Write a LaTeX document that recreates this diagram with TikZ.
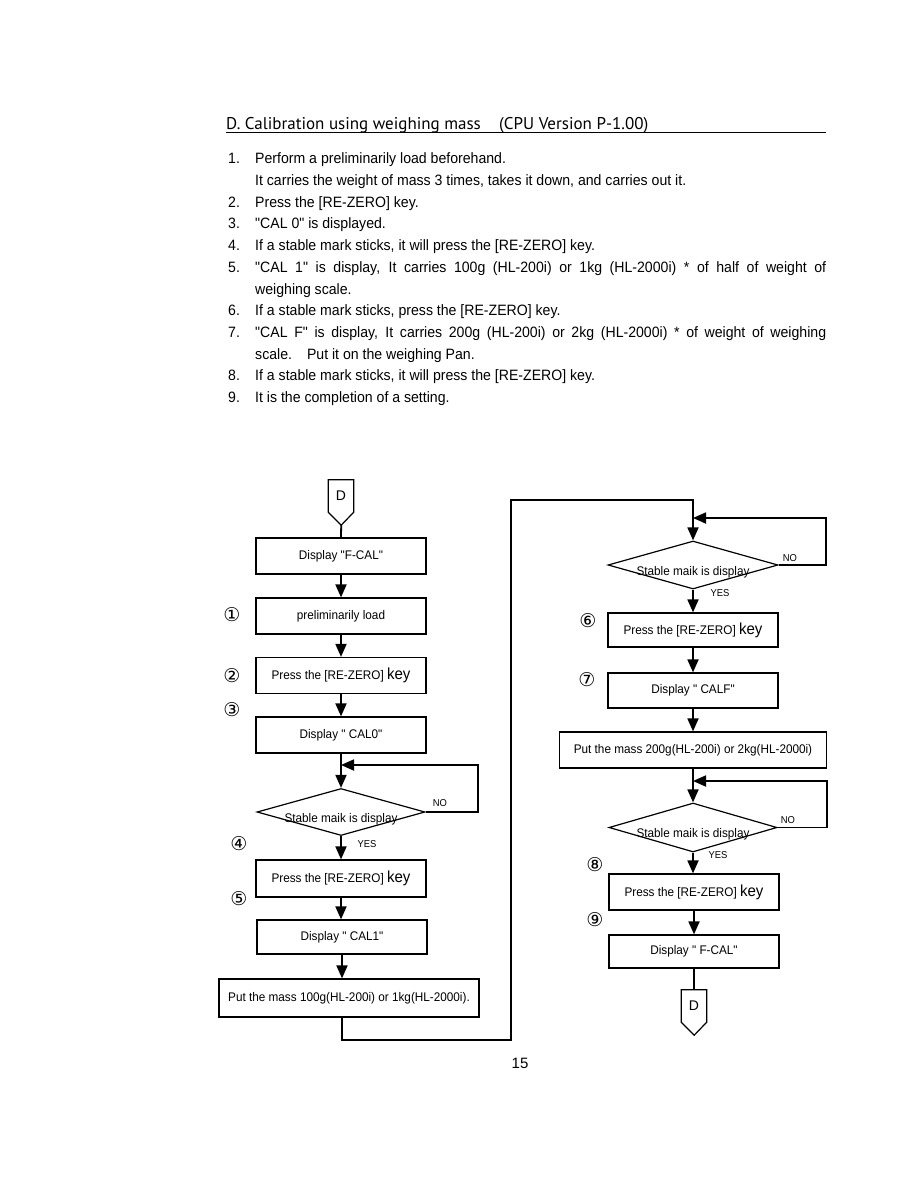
\documentclass[tikz,border=0pt]{standalone}
\usepackage{fontspec}
\setmainfont{Liberation Sans}
\newfontfamily\bodyfont[FakeStretch=0.94]{Liberation Sans}
\newfontfamily\headfont{PT Sans}
\newfontfamily\circfont{DejaVu Sans}
\usetikzlibrary{arrows.meta,shapes.geometric}

\newcommand{\bodytext}{\bodyfont\fontsize{15}{18}\selectfont}
\newcommand{\boxtext}{\bodyfont\fontsize{12.5}{14}\selectfont}
\newcommand{\keytext}{{\fontsize{16}{16}\selectfont key}}

\begin{document}
\begin{tikzpicture}[
  box/.style={draw,line width=1.2,minimum width=170,minimum height=36,inner sep=0,font=\boxtext},
  decision/.style={diamond,draw,line width=1.2,minimum width=170,minimum height=48,inner sep=0},
  flow/.style={line width=1.8,-{Triangle[width=11pt,length=13pt]}},
  link/.style={line width=1.8},
  tag/.style={inner sep=0,font=\circfont\fontsize{19}{19}\selectfont},
  yesno/.style={inner sep=0,font=\bodyfont\fontsize{10}{10}\selectfont},
  listline/.style={anchor=base west,inner sep=0,font=\bodytext},
  offpage/.style={inner sep=0,minimum width=25,minimum height=32,font=\fontsize{14}{14}\selectfont},
  x=1pt,y=-1pt]

  \path[fill=white] (0,0) rectangle (918,1188);
  \useasboundingbox (0,0) rectangle (918,1188);

  % ------------------- heading ----------------------
  \node[anchor=base west,inner sep=0,font=\headfont\fontsize{17}{20}\selectfont] (head) at (226,130)
    {D. Calibration using weighing mass};
  \node[anchor=base west,inner sep=0,font=\headfont\fontsize{17}{20}\selectfont] (cpu) at (499,130)
    {(CPU Version P-1.00)};
  \draw[line width=1] (226,133) -- (826,133);

  % ------------------- steps ----------------------
  \foreach \n/\yb in {1/163.5,2/207,3/228.7,4/250.3,5/272,6/315.3,7/337,8/380.3,9/402} {
    \node[listline] (num\n) at (228,\yb) {\n.};
  }
  \node[listline] (item1)  at (255,163.5) {Perform a preliminarily load beforehand.};
  \node[listline] (item1b) at (255,185.3) {It carries the weight of mass 3 times, takes it down, and carries out it.};
  \node[listline] (item2)  at (255,207)   {Press the [RE-ZERO] key.};
  \node[listline] (item3)  at (255,228.7) {"CAL 0" is displayed.};
  \node[listline] (item4)  at (255,250.3) {If a stable mark sticks, it will press the [RE-ZERO] key.};
  \node[listline] (item5)  at (255,272)
    {\makebox[571pt][s]{"CAL 1" is display, It carries 100g (HL-200i) or 1kg (HL-2000i) * of half of weight of}};
  \node[listline] (item5b) at (255,294.7) {weighing scale.};
  \node[listline] (item6)  at (255,315.3) {If a stable mark sticks, press the [RE-ZERO] key.};
  \node[listline] (item7)  at (255,337)
    {\makebox[571pt][s]{"CAL F" is display, It carries 200g (HL-200i) or 2kg (HL-2000i) * of weight of weighing}};
  \node[listline] (item7b) at (255,359.7) {scale.\quad Put it on the weighing Pan.};
  \node[listline] (item8)  at (255,380.3) {If a stable mark sticks, it will press the [RE-ZERO] key.};
  \node[listline] (item9)  at (255,402)   {It is the completion of a setting.};

  % ------------------- left column ----------------------
  \node[offpage] (dTop) at (341,496) {D};
  \draw[line width=1.2] (dTop.south west) -- (dTop.north west) -- (dTop.north east)
    -- (dTop.south east) -- ++(-12.5,13) coordinate (dTopTip) -- cycle;

  \node[box] (b1) at (341,556)   {Display "F-CAL"};
  \node[box] (b2) at (341,616)   {preliminarily load};
  \node[box] (b3) at (341,675.5) {Press the [RE-ZERO] \keytext};
  \node[box] (b4) at (341,735)   {Display " CAL0"};
  \node[decision,minimum width=168,minimum height=47] (d1) at (341,812) {};
  \node[box,minimum height=37] (b5) at (341,878.5) {Press the [RE-ZERO] \keytext};
  \node[box,minimum height=34] (b6) at (342,937)   {Display " CAL1"};
  \node[box,minimum width=260,minimum height=38] (b7) at (349,998)
    {Put the mass 100g(HL-200i) or 1kg(HL-2000i).};

  % ------------------- right column ----------------------
  \node[decision] (d2) at (693,565) {};
  \node[box,minimum height=34] (b8)  at (693,630)   {Press the [RE-ZERO] \keytext};
  \node[box,minimum height=35] (b9)  at (693,690.5) {Display " CALF"};
  \node[box,minimum width=267] (b10) at (693,750)
    {Put the mass 200g(HL-200i) or 2kg(HL-2000i)};
  \node[decision,minimum width=168,minimum height=49] (d3) at (693,827.5) {};
  \node[box] (b11) at (694,892) {Press the [RE-ZERO] \keytext};
  \node[box,minimum height=33] (b12) at (694,951.5) {Display " F-CAL"};

  \node[offpage] (dEnd) at (694,1006) {D};
  \draw[line width=1.2] (dEnd.south west) -- (dEnd.north west) -- (dEnd.north east)
    -- (dEnd.south east) -- ++(-12.5,13) coordinate (dEndTip) -- cycle;

  % ------------------- decision texts ----------------------
  \foreach \d in {1,2,3} {
    \node[anchor=base,inner sep=0,font=\boxtext] (q\d) at ([yshift=-10pt]d\d.center) {Stable maik is display};
  }
  \node[yesno] (no1)  at (440,803) {NO};
  \node[yesno] (yes1) at (367,844) {YES};
  \node[yesno] (no2)  at (790,558) {NO};
  \node[yesno] (yes2) at (720,593) {YES};
  \node[yesno] (no3)  at (788,820) {NO};
  \node[yesno] (yes3) at (718,855) {YES};

  % ------------------- step marks ----------------------
  \foreach \t/\x/\y [count=\i] in {①/232/615,②/232/676,③/232/710,④/239/844,⑤/239/899,
                                   ⑥/588/621,⑦/587/680,⑧/595/865,⑨/595/920} {
    \node[tag] (c\i) at (\x,\y) {\t};
  }

  % ---------------------------------------------------------
  \draw[link] (dTopTip) -- (b1.north);
  \foreach \a/\b in {b1/b2,b2/b3,b3/b4,b4/d1,d1/b5,b5/b6,b6/b7,d2/b8,b8/b9,b9/b10,b10/d3,d3/b11,b11/b12} {
    \draw[flow] (\a.south) -- (\a.south |- \b.north);
  }
  \draw[link] (b12.south) -- (dEnd.north);

  \coordinate (j1) at (341,765);
  \coordinate (j2) at (693,518);
  \coordinate (j3) at (693,781);
  \draw[flow] (d1.east) -- ++(52,0) |- (j1);
  \draw[flow] (d2.east) -- ++(47,0) |- (j2);
  \draw[flow] (d3.east) -- ++(49,0) |- (j3);

  \coordinate (r1) at (511,1040);
  \coordinate (top) at (693,500);
  \draw[flow] (b7.south -| b6.south) |- (r1) |- (top) -- (d2.north);

  \node[font=\fontsize{15}{15}\selectfont] (page) at (520,1063) {15};
\end{tikzpicture}
\end{document}
